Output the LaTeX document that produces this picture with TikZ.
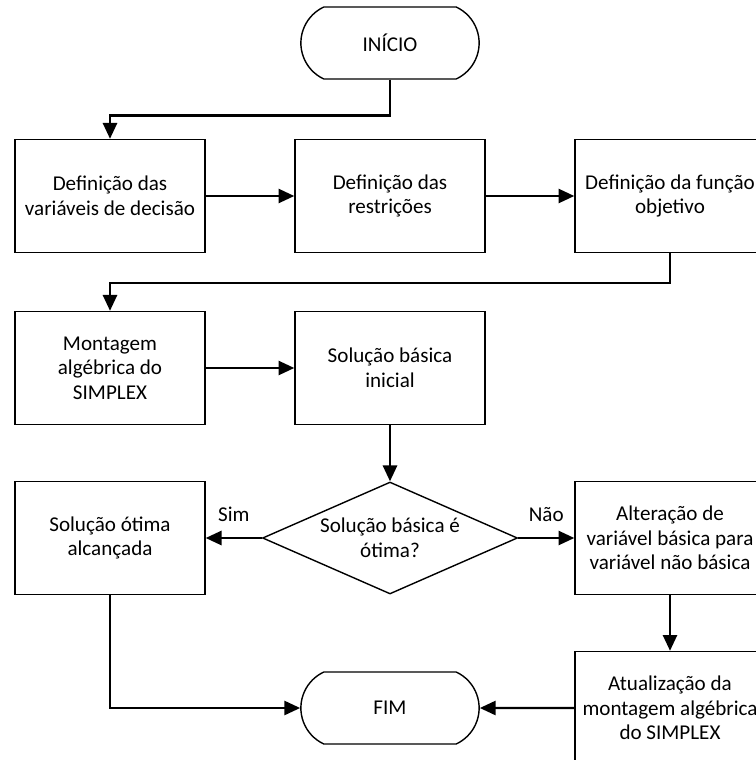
\documentclass[tikz,border=0pt]{standalone}
\usepackage{fontspec}
\setmainfont{Carlito}
\usetikzlibrary{arrows.meta,shapes.geometric,shapes.misc,positioning}

\begin{document}
\begin{tikzpicture}[x=0.02cm,y=-0.02cm,
  font=\fontsize{12}{14}\selectfont,
  block/.style={draw,line width=0.8pt,minimum width=3.8cm,minimum height=2.26cm,align=center,inner sep=2pt},
  terminal/.style={draw,line width=0.8pt,rounded rectangle,rounded rectangle arc length=130,minimum width=3.8cm,minimum height=1.44cm},
  decision/.style={draw,line width=0.8pt,diamond,aspect=2.28,inner sep=0pt,minimum width=5.1cm,minimum height=2.24cm,align=center},
  link/.style={line width=1.4pt,-{Triangle[length=9pt,width=8pt]}}]

\useasboundingbox (0,0) rectangle (755,760);

\node[terminal] (inicio) at (390,43) {INÍCIO};
\node[block] (vars) at (110,196) {Definição das\\variáveis de decisão};
\node[block] (restr) at (390,196) {Definição das\\restrições};
\node[block] (obj) at (670,196) {Definição da função\\objetivo};
\node[block] (mont) at (110,368) {Montagem\\algébrica do\\SIMPLEX};
\node[block] (basica) at (390,368) {Solução básica\\inicial};
\node[decision] (otimo) at (390,538) {Solução básica é\\ótima?};
\node[block] (alcancada) at (110,538) {Solução ótima\\alcançada};
\node[block] (troca) at (670,538) {Alteração de\\variável básica para\\variável não básica};
\node[block] (atual) at (670,708) {Atualização da\\montagem algébrica\\do SIMPLEX};
\node[terminal] (fim) at (390,708) {FIM};

\draw[link] (inicio.south) -- ++(0,36) -| (vars.north);
\draw[link] (vars) -- (restr);
\draw[link] (restr) -- (obj);
\draw[link] (obj.south) -- ++(0,30) -| (mont.north);
\draw[link] (mont) -- (basica);
\draw[link] (basica) -- (otimo);
\draw[link] (otimo.west) -- node[midway,above=5pt] (sim) {Sim} (alcancada.east);
\draw[link] (otimo.east) -- node[midway,above=5pt] (nao) {Não} (troca.west);
\draw[link] (troca) -- (atual);
\draw[link] (atual) -- (fim);
\draw[link] (alcancada.south) |- (fim.west);

\end{tikzpicture}
\end{document}
